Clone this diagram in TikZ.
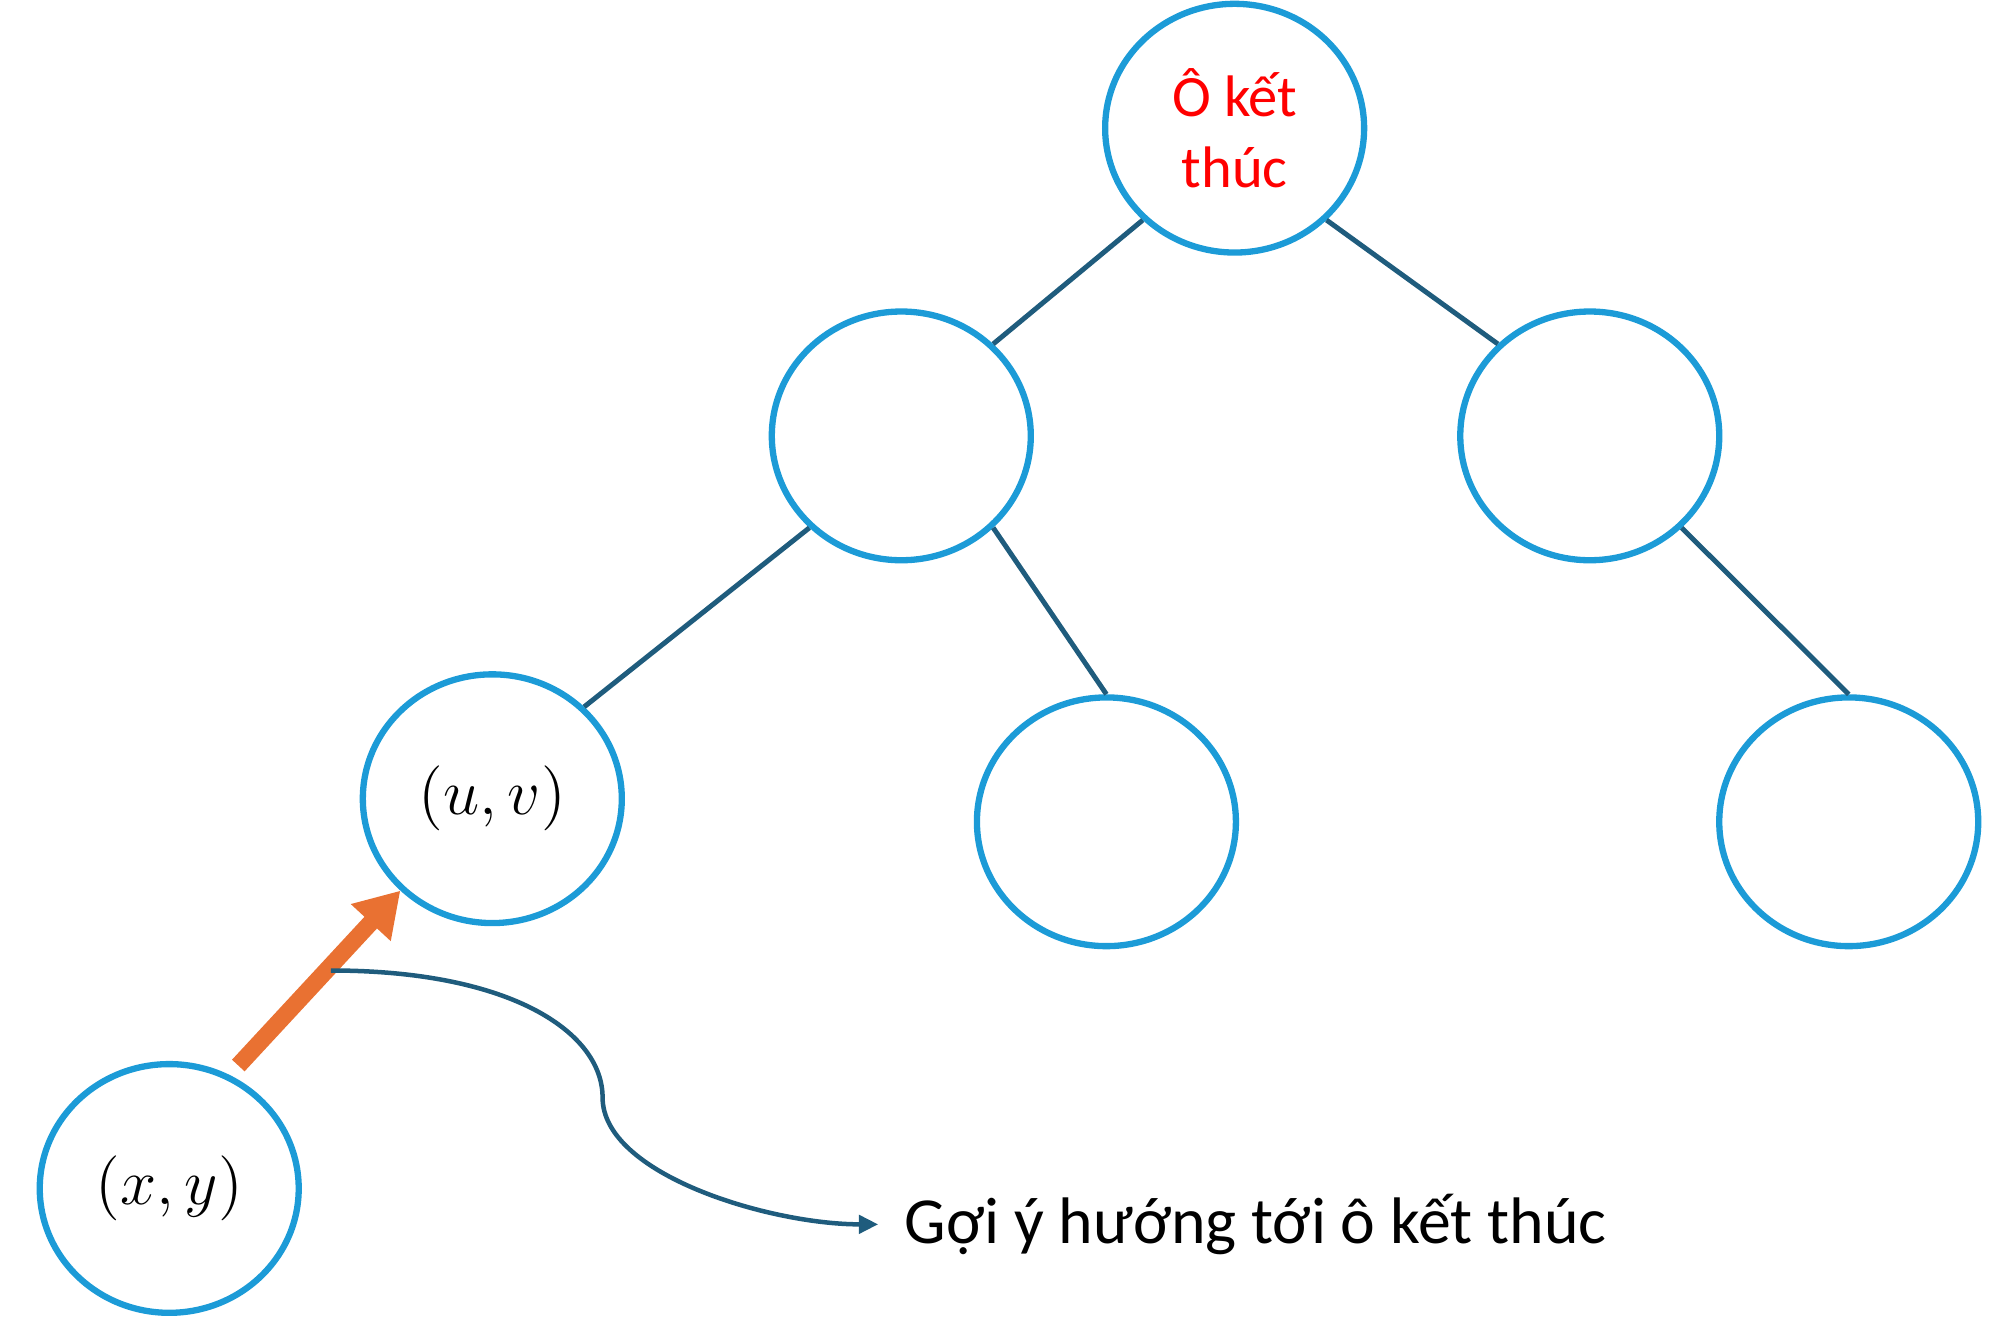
\documentclass[tikz,border=0pt]{standalone}
\usepackage[no-math]{fontspec}
\setmainfont{Carlito}
\usetikzlibrary{shapes.geometric,arrows.meta}
\definecolor{cellblue}{RGB}{28,155,215}
\definecolor{linkteal}{RGB}{31,92,125}
\definecolor{hintorange}{RGB}{233,113,50}
\tikzset{
    cell/.style={ellipse, draw=cellblue, line width=1.4pt, minimum width=2.02cm, minimum height=1.94cm, inner sep=0pt, font=\fontsize{15}{18}\selectfont},
    link/.style={draw=linkteal, line width=1.1pt}
}
\begin{document}
\begin{tikzpicture}
        \useasboundingbox (0,0) rectangle (15.6,10.31);

        \node (goal) at (9.63, 9.31) [cell, align=center, text=red, font=\fontsize{13}{15.6}\selectfont] {Ô kết\\thúc};
        \node (left) at (7.03, 6.91) [cell] {};
        \node (right) at (12.40, 6.91) [cell] {};
        \node (uv) at (3.84, 4.08) [cell] {$(u,v)$};
        \node (mid) at (8.63, 3.90) [cell] {};
        \node (far) at (14.42, 3.90) [cell] {};
        \node (xy) at (1.32, 1.04) [cell] {$(x,y)$};
        \node (hint) at (6.85, 0.76) [anchor = west, inner sep = 2mm, font=\fontsize{14.6}{17.5}\selectfont] {Gợi ý hướng tới ô kết thúc};

        \draw [link] (goal.225) -- (left.45);
        \draw [link] (goal.-45) -- (right.135);
        \draw [link] (left.225) -- (uv.45);
        \draw [link] (left.-45) -- (mid.north);
        \draw [link] (right.-45) -- (far.north);

        \draw [hintorange, line width=3.8pt, shorten <=1mm, -{Triangle[length=3.4mm, width=4mm]}] (xy.62) -- (uv.225);

        \coordinate (tail) at (2.58, 2.74);
        \draw [linkteal, line width=1pt, -{Triangle[length=1.5mm, width=1.4mm]}] (tail) .. controls (4.0, 2.74) and (4.70, 2.25) .. (4.70, 1.75) .. controls (4.70, 1.15) and (6.0, 0.76) .. (hint.west);
    \end{tikzpicture}
\end{document}
